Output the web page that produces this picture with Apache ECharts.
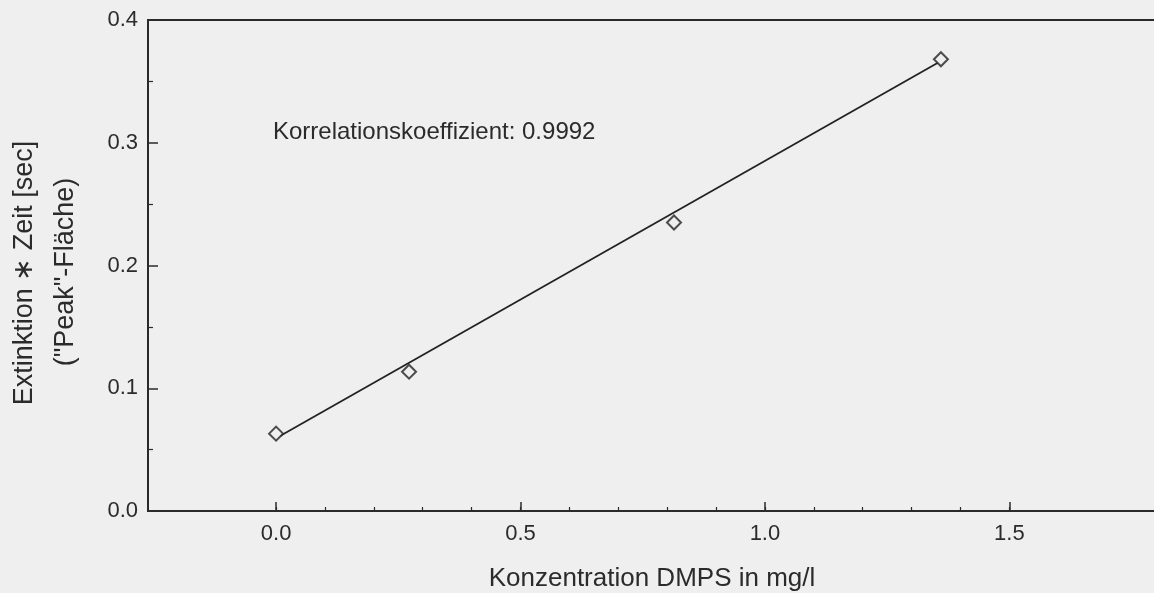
<!DOCTYPE html>
<html lang="de" style="height: 100%;overflow: hidden;">
<head>
  <meta charset="utf-8">
  <title>Kalibrierung DMPS</title>
</head>
<body style="height: 100%; margin: 0; background: #efefef;">
  <div id="container" style="width: 1154px; height: 593px;"></div>

  <script type="text/javascript" src="https://cdn.jsdelivr.net/npm/echarts@6/dist/echarts.min.js"></script>
  <script type="text/javascript">
    // Messpunkte (Konzentration in mg/l, Extinktion * Zeit in sec)
    var konzentration = [0.0, 0.272, 0.814, 1.36];
    var extinktion = [0.063, 0.1135, 0.235, 0.368];

    // Regressionsgerade, Endpunkte
    var geradeX = [0.008, 1.353];
    var geradeY = [0.0611, 0.365];

    // Achsen
    var xTicks = [0.0, 0.5, 1.0, 1.5];
    var xMinorTicks = [0.0, 0.1, 0.2, 0.3, 0.4, 0.5, 0.6, 0.7, 0.8, 0.9, 1.0, 1.1, 1.2, 1.3, 1.4, 1.5];
    var yTicks = [0.0, 0.1, 0.2, 0.3, 0.4];

    var korrelation = 'Korrelationskoeffizient: 0.9992';
    var yTitel = ['Extinktion ∗ Zeit [sec]', '("Peak"-Fläche)'];

    var dom = document.getElementById('container');
    var myChart = echarts.init(dom, null, { renderer: 'canvas' });

    var font = '"Liberation Sans", Arial, Helvetica, sans-serif';
    var ink = '#2b2b2b';

    var punkte = konzentration.map(function (x, i) { return [x, extinktion[i]]; });
    var gerade = geradeX.map(function (x, i) { return [x, geradeY[i]]; });

    var option = {
      backgroundColor: '#efefef',
      animation: false,
      textStyle: { fontFamily: font, color: ink },
      grid: {
        left: 148,
        right: -2,
        top: 20,
        bottom: 82,
        containLabel: false,
        outerBoundsMode: 'none',
        show: true,
        borderColor: '#2a2a2a',
        borderWidth: 2,
        backgroundColor: 'transparent'
      },
      xAxis: [
        {
          type: 'value',
          min: -0.262,
          max: 1.8,
          axisLine: { show: false, onZero: false },
          splitLine: { show: false },
          axisTick: {
            show: true, inside: true, length: 9,
            customValues: xTicks,
            lineStyle: { color: ink, width: 1.5 }
          },
          axisLabel: {
            customValues: xTicks,
            margin: 12,
            fontSize: 22,
            fontFamily: font,
            color: ink,
            formatter: function (v) { return v.toFixed(1); }
          },
          name: 'Konzentration DMPS in mg/l',
          nameLocation: 'middle',
          nameGap: 55,
          nameTextStyle: { fontSize: 26, fontFamily: font, color: ink }
        },
        {
          type: 'value',
          min: -0.262,
          max: 1.8,
          position: 'bottom',
          axisLine: { show: false, onZero: false },
          splitLine: { show: false },
          axisTick: {
            show: true, inside: true, length: 4,
            customValues: xMinorTicks,
            lineStyle: { color: ink, width: 1.2 }
          },
          axisLabel: { show: false }
        }
      ],
      yAxis: {
        type: 'value',
        min: yTicks[0],
        max: yTicks[yTicks.length - 1],
        interval: 0.1,
        axisLine: { show: false, onZero: false },
        splitLine: { show: false },
        axisTick: { show: true, inside: true, length: 10, lineStyle: { color: ink, width: 1.5 } },
        minorTick: { show: true, splitNumber: 2, length: 5, lineStyle: { color: ink, width: 1.2 } },
        axisLabel: {
          margin: 10,
          fontSize: 22,
          fontFamily: font,
          color: ink,
          formatter: function (v) { return v.toFixed(1); }
        }
      },
      graphic: [
        {
          type: 'text',
          left: 273,
          top: 120,
          style: { text: korrelation, font: '24px ' + font, fill: ink }
        },
        {
          type: 'text',
          x: 25, y: 273,
          rotation: Math.PI / 2,
          style: { text: yTitel[0], font: '27px ' + font, fill: ink, align: 'center', verticalAlign: 'middle' }
        },
        {
          type: 'text',
          x: 66, y: 272,
          rotation: Math.PI / 2,
          style: { text: yTitel[1], font: '27px ' + font, fill: ink, align: 'center', verticalAlign: 'middle' }
        }
      ],
      series: [
        {
          type: 'line',
          data: gerade,
          symbol: 'none',
          lineStyle: { color: '#222', width: 1.8 },
          z: 2
        },
        {
          type: 'scatter',
          data: punkte,
          symbol: 'diamond',
          symbolSize: 14,
          itemStyle: { color: '#efefef', borderColor: '#222', borderWidth: 2 },
          z: 3
        }
      ]
    };

    myChart.setOption(option);
    window.addEventListener('resize', myChart.resize);
  </script>
</body>
</html>
